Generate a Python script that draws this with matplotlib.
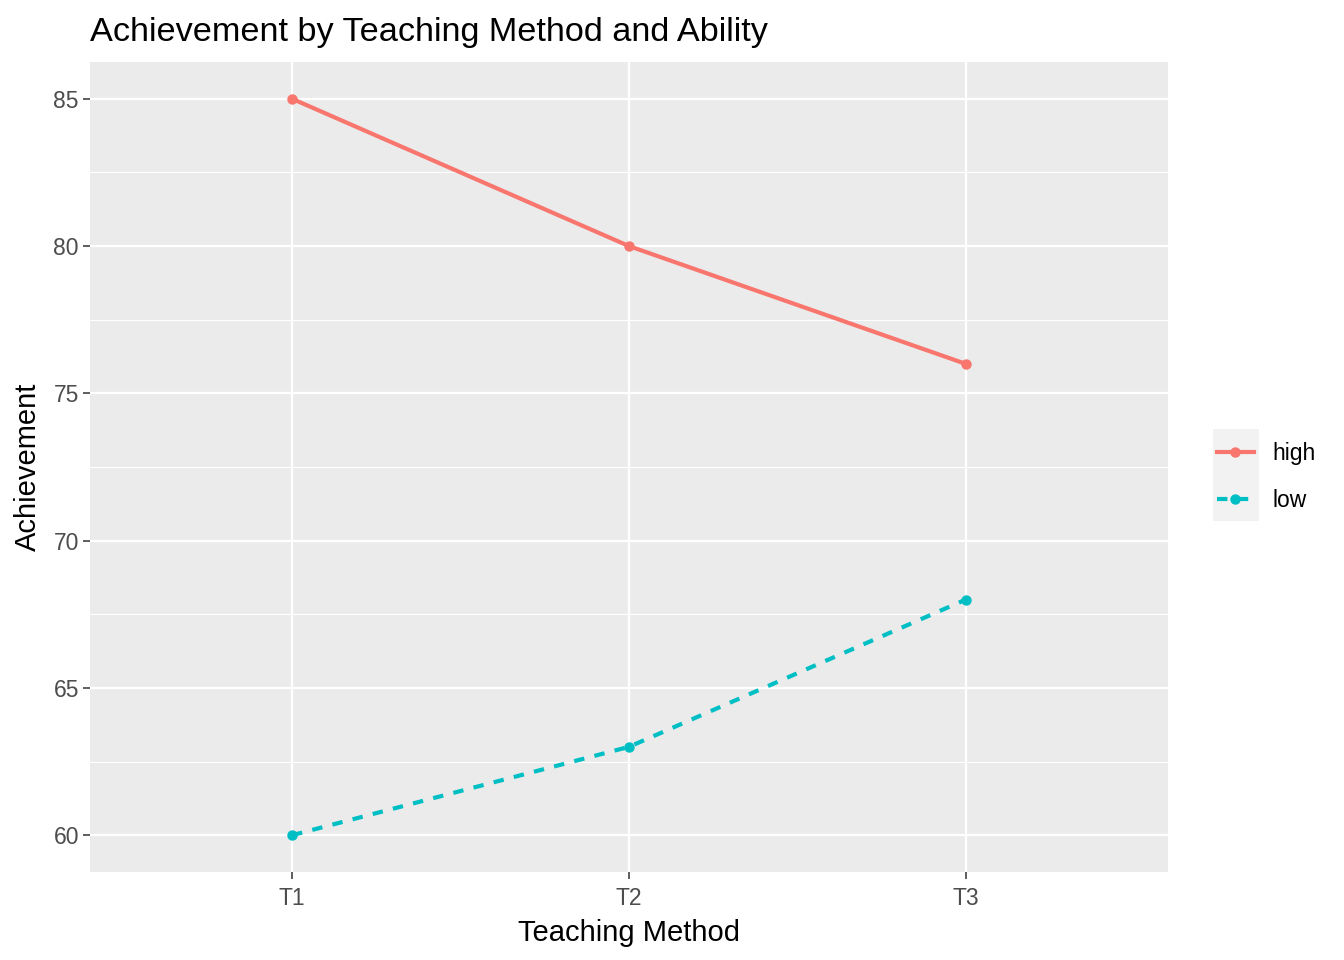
import matplotlib.pyplot as plt
from matplotlib.patches import Rectangle
from matplotlib.lines import Line2D

plt.rcParams['font.family'] = ['Liberation Sans', 'DejaVu Sans']

# data
methods = ['T1', 'T2', 'T3']
abilities = ['high', 'low']
achievement = {
    'high': [85, 80, 76],
    'low': [60, 63, 68],
}
colors = {'high': '#F8766D', 'low': '#00BFC4'}
styles = {'high': '-', 'low': (0, (2.5, 2.5))}

fig = plt.figure(figsize=(13.44, 9.6), dpi=100)
ax = fig.add_axes([90 / 1344, 1 - 872 / 960, (1168 - 90) / 1344, (872 - 62) / 960])
ax.set_facecolor('#EBEBEB')

xs = list(range(1, len(methods) + 1))
for ab in abilities:
    ax.plot(xs, achievement[ab], color=colors[ab], linestyle=styles[ab],
            linewidth=3.0, marker='o', markersize=6.5, zorder=3,
            dash_capstyle='butt')

ax.set_xlim(0.4, 3.6)
ax.set_ylim(58.75, 86.25)
ax.set_xticks(xs)
ax.set_xticklabels(methods)
ax.set_yticks([60, 65, 70, 75, 80, 85])
ax.set_yticks([62.5, 67.5, 72.5, 77.5, 82.5], minor=True)
ax.grid(which='major', color='white', linewidth=1.6)
ax.grid(which='minor', axis='y', color='white', linewidth=0.8)
ax.set_axisbelow(True)
for s in ax.spines.values():
    s.set_visible(False)
ax.tick_params(which='major', length=5, width=1.1, color='#333333',
               labelsize=16.5, labelcolor='#4D4D4D', pad=3)
ax.tick_params(axis='x', pad=6)
ax.tick_params(which='minor', length=0)

ax.set_xlabel('Teaching Method', fontsize=21, labelpad=6)
ax.set_ylabel('Achievement', fontsize=21, labelpad=8)
ax.set_title('Achievement by Teaching Method and Ability', fontsize=24.7,
             loc='left', pad=15)

# legend key background
fig.patches.append(Rectangle((1213 / 1344, 1 - 521 / 960), 46 / 1344, 92 / 960,
                             transform=fig.transFigure, facecolor='#F2F2F2',
                             edgecolor='none', zorder=0))
handles = [Line2D([], [], color=colors[ab], linestyle=styles[ab], linewidth=3.0,
                  marker='o', markersize=6.5) for ab in abilities]
fig.legend(handles, abilities, loc='center left',
           bbox_to_anchor=(1217 / 1344, 1 - 477 / 960), frameon=False,
           fontsize=16.5, handlelength=1.6, handletextpad=0.83,
           labelspacing=1.05, borderpad=0, borderaxespad=0)

fig.savefig('out.png', dpi=100)
